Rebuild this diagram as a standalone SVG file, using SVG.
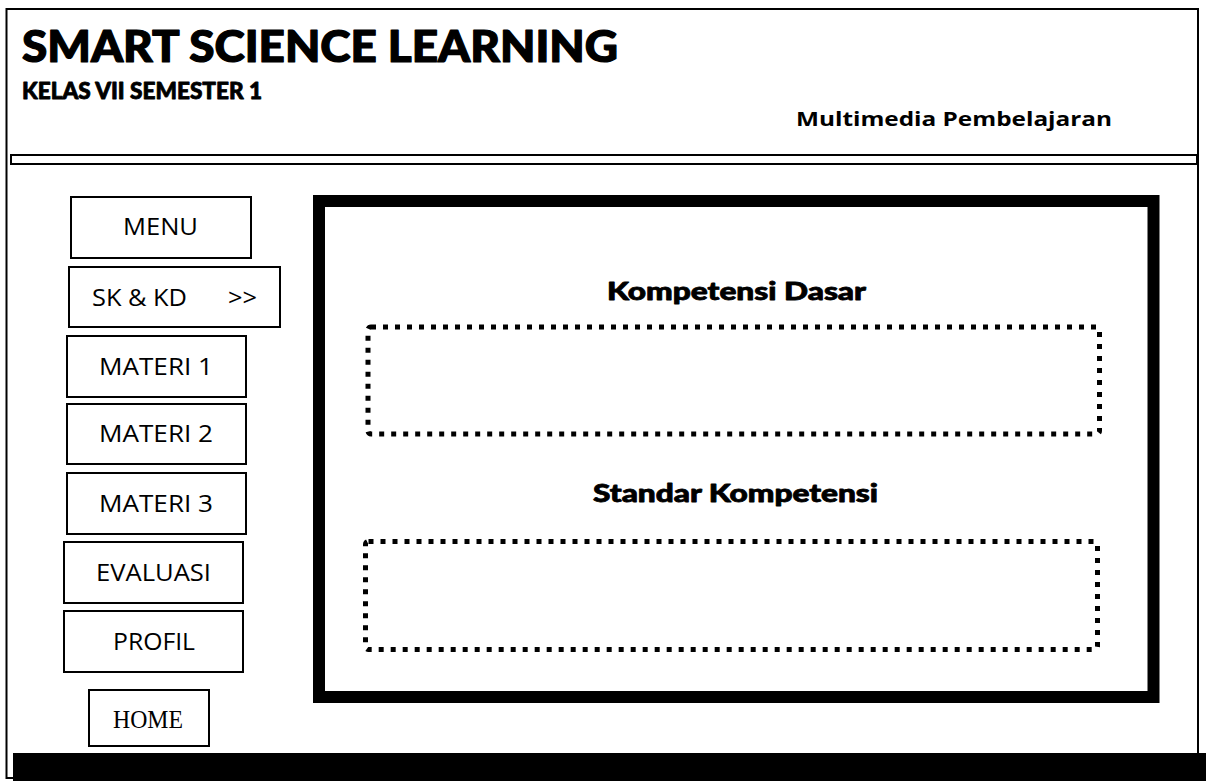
<svg xmlns="http://www.w3.org/2000/svg" width="1206" height="781" viewBox="0 0 1206 781">
<style>
.btn{fill:#fff;stroke:#000;stroke-width:2}
.bt{font-family:"Open Sans","Liberation Sans",Arial,sans-serif;font-size:24px;fill:#000}
.hd{font-family:Lato,"Open Sans",sans-serif;font-weight:900;fill:#000;stroke:#000;stroke-linejoin:round}
.dot{fill:none;stroke:#000;stroke-width:5;stroke-dasharray:5 7}
</style>
<rect width="1206" height="781" fill="#fff"/>
<g id="frame">
<rect x="6.5" y="9" width="1191.5" height="769" fill="none" stroke="#000" stroke-width="2"/>
<rect x="11" y="155" width="1186" height="9" fill="#fff" stroke="#000" stroke-width="2"/>
<rect x="13" y="753" width="1193" height="28" fill="#000"/>
</g>
<g id="header">
<text class="hd" x="22" y="62" font-size="43" stroke-width="1.2" textLength="596" lengthAdjust="spacingAndGlyphs">SMART SCIENCE LEARNING</text>
<text class="hd" x="22" y="99" font-size="22" stroke-width="0.8" textLength="240" lengthAdjust="spacingAndGlyphs">KELAS VII SEMESTER 1</text>
<text x="796" y="126" font-family="'Open Sans','Liberation Sans',Arial,sans-serif" font-weight="bold" font-size="20" textLength="316" lengthAdjust="spacingAndGlyphs">Multimedia Pembelajaran</text>
</g>
<g id="menu"><rect class="btn" x="71" y="197" width="180" height="61"/><text class="bt" x="123" y="235" textLength="75" lengthAdjust="spacingAndGlyphs">MENU</text></g>
<g id="skkd"><rect class="btn" x="69" y="267" width="211" height="60"/><text class="bt" x="92" y="306" textLength="95" lengthAdjust="spacingAndGlyphs">SK &amp; KD</text><text class="bt" x="228" y="306" textLength="29" lengthAdjust="spacingAndGlyphs">&gt;&gt;</text></g>
<g id="materi1"><rect class="btn" x="67" y="336" width="179" height="61"/><text class="bt" x="99" y="375" textLength="114" lengthAdjust="spacingAndGlyphs">MATERI 1</text></g>
<g id="materi2"><rect class="btn" x="67" y="404" width="179" height="60"/><text class="bt" x="99" y="442" textLength="114" lengthAdjust="spacingAndGlyphs">MATERI 2</text></g>
<g id="materi3"><rect class="btn" x="67" y="473" width="179" height="61"/><text class="bt" x="99" y="512" textLength="114" lengthAdjust="spacingAndGlyphs">MATERI 3</text></g>
<g id="evaluasi"><rect class="btn" x="64" y="542" width="179" height="61"/><text class="bt" x="96" y="581" textLength="115" lengthAdjust="spacingAndGlyphs">EVALUASI</text></g>
<g id="profil"><rect class="btn" x="64" y="611" width="179" height="61"/><text class="bt" x="113" y="650" textLength="82" lengthAdjust="spacingAndGlyphs">PROFIL</text></g>
<g id="home"><rect class="btn" x="89" y="690" width="120" height="56"/><text x="113" y="728" font-family="'Liberation Serif','Times New Roman',serif" font-size="26" textLength="70" lengthAdjust="spacingAndGlyphs">HOME</text></g>
<g id="content">
<rect x="319" y="201" width="834.5" height="496" fill="#fff" stroke="#000" stroke-width="12"/>
<text class="hd" x="607" y="300" font-size="24" stroke-width="0.8" textLength="259" lengthAdjust="spacingAndGlyphs">Kompetensi Dasar</text>
<rect class="dot" x="368" y="327" width="731.5" height="107" rx="3"/>
<text class="hd" x="593" y="502" font-size="24" stroke-width="0.8" textLength="285" lengthAdjust="spacingAndGlyphs">Standar Kompetensi</text>
<rect class="dot" x="365.5" y="541.5" width="732" height="108" rx="3"/>
</g>
<g id="connectors"/>
</svg>
